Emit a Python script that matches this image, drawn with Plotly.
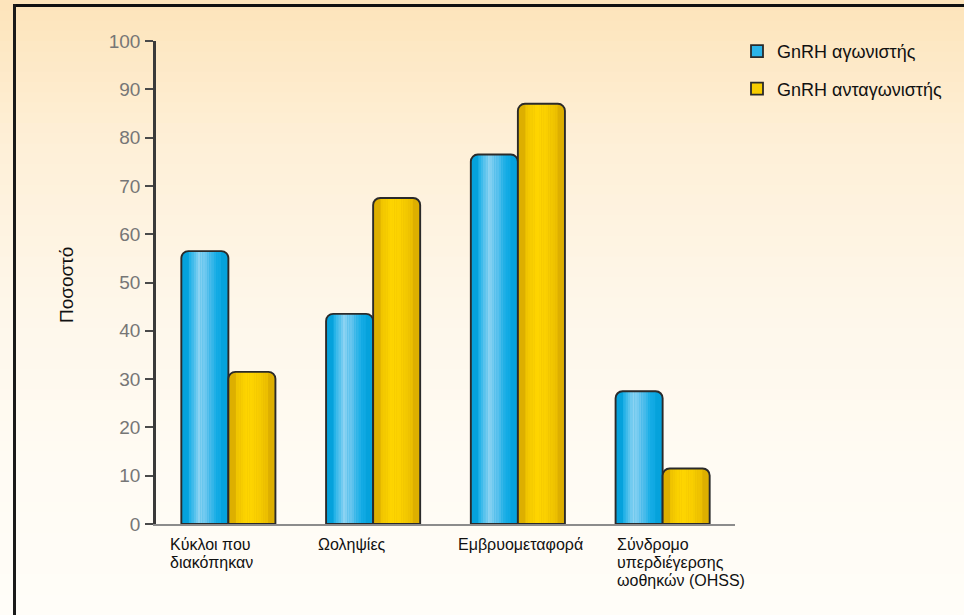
import plotly.graph_objects as go

# ---- data -------------------------------------------------------------
categories = [
    "Κύκλοι που<br>διακόπηκαν",
    "Ωοληψίες",
    "Εμβρυομεταφορά",
    "Σύνδρομο<br>υπερδιέγερσης<br>ωοθηκών (OHSS)",
]
agonist = [56.5, 43.5, 76.5, 27.5]
antagonist = [31.5, 67.5, 87, 11.5]
series_names = ["GnRH αγωνιστής", "GnRH ανταγωνιστής"]
y_ticks = [0, 10, 20, 30, 40, 50, 60, 70, 80, 90, 100]

# ---- page geometry ----------------------------------------------------
W, H = 964, 615
ML, MR, MT, MB = 156, 229, 41, 91
PW, PH = W - ML - MR, H - MT - MB

BAR_W = 0.325          # width of one bar in category units
RADIUS = 7
FONT = "Liberation Sans, Arial"

def hex2rgb(h):
    h = h.lstrip("#")
    return tuple(int(h[i:i + 2], 16) for i in (0, 2, 4))

def lerp_color(stops, t):
    for (p0, c0), (p1, c1) in zip(stops, stops[1:]):
        if p0 <= t <= p1:
            f = 0 if p1 == p0 else (t - p0) / (p1 - p0)
            a, b = hex2rgb(c0), hex2rgb(c1)
            return "rgb(%d,%d,%d)" % tuple(round(a[k] + (b[k] - a[k]) * f) for k in range(3))
    return stops[-1][1]

blue_stops = [(0, "#05A2DC"), (0.18, "#22B2E8"), (0.38, "#8CD3F2"),
              (0.55, "#62C4EE"), (0.75, "#14ACE6"), (1, "#049FDA")]
gold_stops = [(0, "#DDAF00"), (0.2, "#F2C700"), (0.4, "#FFD600"),
              (0.6, "#FAD000"), (0.8, "#EDC100"), (1, "#DAAD00")]

fig = go.Figure()
x_idx = list(range(len(categories)))

def add_series(values, name, offset, stops, group):
    # base fill
    fig.add_trace(go.Bar(
        x=x_idx, y=values, width=BAR_W, offset=offset, name=name,
        legendgroup=group, showlegend=False,
        marker=dict(color=stops[0][1], line=dict(width=0), cornerradius=RADIUS),
        hoverinfo="skip"))
    # horizontal shading, built from thin vertical strips
    n = 14
    lo, hi = 0.16, 0.84
    sw = (hi - lo) / n
    for k in range(n):
        t = lo + sw * (k + 0.5)
        fig.add_trace(go.Bar(
            x=x_idx, y=values, width=BAR_W * sw * 1.08,
            offset=offset + BAR_W * (lo + sw * k),
            showlegend=False, legendgroup=group,
            marker=dict(color=lerp_color(stops, t), line=dict(width=0)),
            hoverinfo="skip"))
    # outline on top
    fig.add_trace(go.Bar(
        x=x_idx, y=values, width=BAR_W, offset=offset, name=name,
        legendgroup=group, showlegend=False,
        marker=dict(color="rgba(0,0,0,0)", line=dict(color="#2a2a2a", width=1.9),
                    cornerradius=RADIUS),
        hovertemplate="%{y}<extra>" + name + "</extra>"))

add_series(agonist, series_names[0], -BAR_W, blue_stops, "a")
add_series(antagonist, series_names[1], 0, gold_stops, "b")

# legend entries
for name, col, grp in [(series_names[0], "#2BB4E8", "a"), (series_names[1], "#F7CC00", "b")]:
    fig.add_trace(go.Bar(x=[None], y=[None], name=name, legendgroup=grp,
                         marker=dict(color=col, line=dict(color="#2a2a2a", width=1.8))))

# ---- background: warm vertical gradient + dark frame -----------------
def px_x(p):
    return (p - ML) / PW

def px_y(p):
    return 1 - (p - MT) / PH

shapes = []
bg_stops = [(0, "#FDE4BA"), (0.22, "#FEEFD6"), (0.5, "#FEF7EA"), (0.75, "#FFFBF3"), (1, "#FFFDF8")]
N = 60
for k in range(N):
    y0 = H * k / N
    y1 = H * (k + 1) / N + 1
    shapes.append(dict(type="rect", xref="paper", yref="paper", layer="below",
                       x0=px_x(0), x1=px_x(W), y0=px_y(y1), y1=px_y(y0),
                       fillcolor=lerp_color(bg_stops, (k + 0.5) / N), line=dict(width=0)))
# frame
shapes.append(dict(type="line", xref="paper", yref="paper", layer="above",
                   x0=px_x(13), x1=px_x(W + 2), y0=px_y(5.5), y1=px_y(5.5),
                   line=dict(color="#111111", width=3)))
shapes.append(dict(type="line", xref="paper", yref="paper", layer="above",
                   x0=px_x(14.5), x1=px_x(14.5), y0=px_y(4), y1=px_y(H + 2),
                   line=dict(color="#1a1a1a", width=3)))

# ---- category labels, left aligned under each pair -------------------
label_shift = [-60, -57, -62, -48]
LINE_STEP = 18
annotations = []
for i, (lab, sh) in enumerate(zip(categories, label_shift)):
    for j, line in enumerate(lab.split("<br>")):
        annotations.append(dict(x=i, y=0, xref="x", yref="y", text=line, showarrow=False,
                                xanchor="left", yanchor="middle", align="left",
                                xshift=sh, yshift=-20 - LINE_STEP * j,
                                font=dict(family=FONT, size=16, color="#111111")))
annotations.append(dict(x=px_x(66), y=px_y(285), xref="paper", yref="paper", text="Ποσοστό",
                        textangle=-90, showarrow=False, xanchor="center", yanchor="middle",
                        font=dict(family=FONT, size=19, color="#111111")))

fig.update_layout(
    width=W, height=H,
    margin=dict(l=ML, r=MR, t=MT, b=MB, autoexpand=False),
    paper_bgcolor="#FFFDF8", plot_bgcolor="rgba(0,0,0,0)",
    barmode="overlay",
    shapes=shapes, annotations=annotations,
    font=dict(family=FONT, color="#111111"),
    legend=dict(xref="container", yref="container", x=737 / W, y=1 - 33 / H,
                xanchor="left", yanchor="top", bgcolor="rgba(0,0,0,0)",
                font=dict(family=FONT, size=18, color="#111111"), tracegroupgap=11,
                traceorder="grouped"),
    showlegend=True,
)
fig.update_xaxes(range=[-0.5, len(categories) - 0.5], showticklabels=False, ticks="",
                 showgrid=False, zeroline=False, showline=True, linecolor="#8c8c8c",
                 linewidth=2, fixedrange=True)
fig.update_yaxes(range=[0, 100], tickvals=y_ticks, ticks="outside", ticklen=8,
                 tickwidth=2, tickcolor="#4a4a4a", showgrid=False, zeroline=False,
                 showline=True, linecolor="#3a3a3a", linewidth=2.5,
                 tickfont=dict(family=FONT, size=19, color="#767676"),
                 ticklabelstandoff=1, fixedrange=True)

fig.write_html("out.html")
